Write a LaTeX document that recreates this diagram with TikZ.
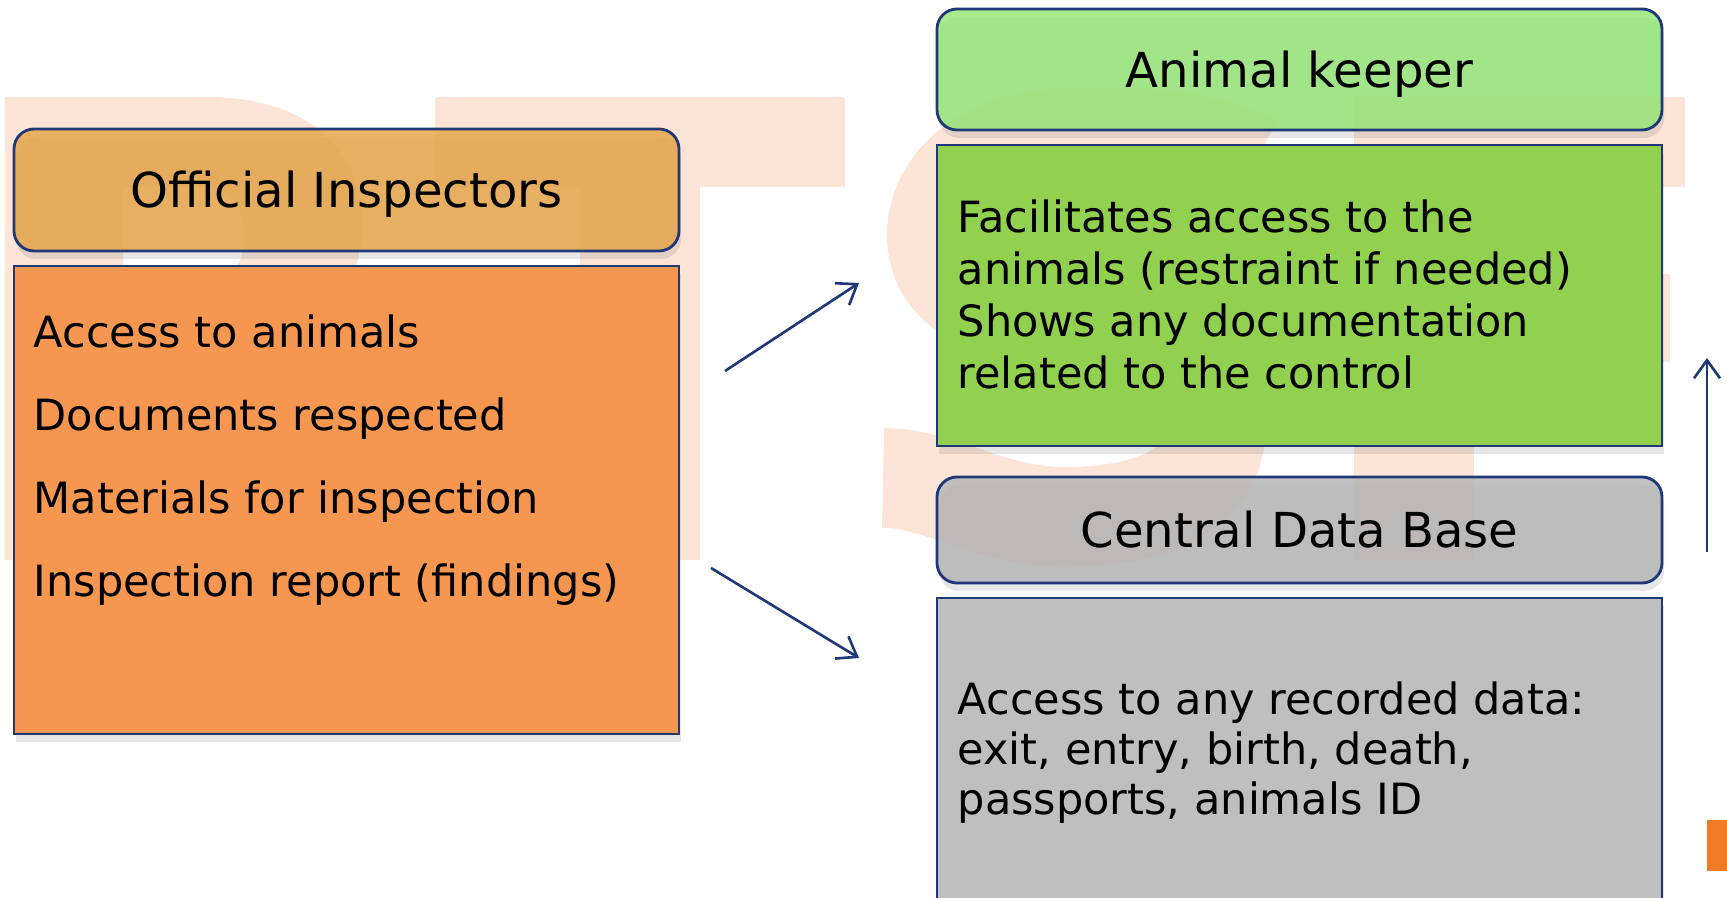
\documentclass[tikz,border=0pt]{standalone}
\usepackage{fontspec}
\setmainfont{DejaVu Sans}
\usetikzlibrary{arrows.meta,shadows}

\definecolor{navy}{RGB}{31,56,120}
\definecolor{peach}{RGB}{252,229,214}
\definecolor{inspHead}{RGB}{231,166,76}
\definecolor{inspBody}{RGB}{245,151,80}
\definecolor{keepHead}{RGB}{150,230,120}
\definecolor{keepBody}{RGB}{146,208,80}
\definecolor{dbHead}{RGB}{182,182,182}
\definecolor{dbBody}{RGB}{191,191,191}
\definecolor{logoOrange}{RGB}{240,125,38}

\begin{document}
\begin{tikzpicture}[x=0.1mm, y=-0.1mm, font=\fontsize{12.25}{14}\selectfont,
  headbox/.style={draw=navy, line width=0.8pt, rounded corners=2mm,
    fill opacity=0.85, text opacity=1, inner sep=0pt,
    text height=10pt, text depth=0pt,
    drop shadow={opacity=0.2, shadow xshift=0.2mm, shadow yshift=-0.8mm},
    font=\fontsize{13.7}{16}\selectfont},
  bodybox/.style={draw=navy, line width=0.8pt, inner sep=0pt,
    drop shadow={opacity=0.2, shadow xshift=0.2mm, shadow yshift=-0.8mm}},
  line/.style={anchor=base west, inner sep=0pt},
  linkarrow/.style={draw=navy, line width=0.75pt,
    -{Straight Barb[length=1.8mm, width=2.6mm]}}]

\useasboundingbox (0,0) rectangle (1727,898);
\clip (0,0) rectangle (1727,898);

\begin{scope}[fill=peach]
\fill[even odd rule] (5,97) -- (205,97) .. controls (310,97) and (362,150) .. (362,225)
  .. controls (362,275) and (340,305) .. (300,322)
  .. controls (385,340) and (432,390) .. (432,445)
  .. controls (432,520) and (370,560) .. (250,560) -- (5,560) -- cycle
  (123,187) -- (195,187) .. controls (228,187) and (244,205) .. (244,237)
  .. controls (244,268) and (228,285) .. (195,285) -- (123,285) -- cycle
  (123,375) -- (210,375) .. controls (260,375) and (290,395) .. (290,422)
  .. controls (290,452) and (260,470) .. (210,470) -- (123,470) -- cycle;
\fill (435,97) rectangle (845,187);
\fill (580,187) rectangle (700,560);
\draw[peach, line width=10mm] (1255,165) .. controls (1195,135) and (1130,138) .. (1074,138)
  .. controls (985,138) and (937,185) .. (937,235)
  .. controls (937,290) and (990,310) .. (1074,330)
  .. controls (1160,350) and (1215,375) .. (1215,430)
  .. controls (1215,490) and (1150,517) .. (1065,517)
  .. controls (990,517) and (940,478) .. (883,478);
\fill (1354,97) rectangle (1474,560);
\fill (1474,97) rectangle (1685,187);
\fill (1474,274) rectangle (1670,362);
\end{scope}

\fill[logoOrange] (1707,820) rectangle (1740,871);

\node[bodybox, fill=inspBody, minimum width=66.5mm, minimum height=46.8mm] (inspbody) at (346.5,500) {};
\node[headbox, fill=inspHead, minimum width=66.5mm, minimum height=12.2mm] (insp) at (346.5,190) {Official Inspectors};

\node[bodybox, fill=keepBody, minimum width=72.5mm, minimum height=30.1mm] (keepbody) at (1299.5,295.5) {};
\node[headbox, fill=keepHead, minimum width=72.5mm, minimum height=12.1mm] (keep) at (1299.5,69.5) {Animal keeper};

\node[bodybox, fill=dbBody, minimum width=72.5mm, minimum height=40.2mm] (dbbody) at (1299.5,799) {};
\node[headbox, fill=dbHead, minimum width=72.5mm, minimum height=10.6mm] (db) at (1299.5,530) {Central Data Base};

\foreach \txt [count=\i from 0] in {Access to animals, Documents respected,
  Materials for inspection, Inspection report (findings)}{
\node[line] (insptxt\i) at (33,{348+82.7*\i}) {\txt};
}
\foreach \txt [count=\i from 0] in {Facilitates access to the,
  animals (restraint if needed), Shows any documentation, related to the control}{
\node[line] (keeptxt\i) at (957,{233+51.7*\i}) {\txt};
}
\foreach \txt [count=\i from 0] in {{Access to any recorded data:},
  {exit, entry, birth, death,}, {passports, animals ID}}{
\node[line] (dbtxt\i) at (957,{715+50*\i}) {\txt};
}

\coordinate (insp-up) at (725,371);
\coordinate (keep-in) at (859,283);
\coordinate (insp-down) at (711,568);
\coordinate (db-in) at (859,658);
\coordinate (db-up) at (1707,552);
\coordinate (keep-up) at (1707,358);

\draw[linkarrow] (insp-up) -- (keep-in);
\draw[linkarrow] (insp-down) -- (db-in);
\draw[linkarrow] (db-up) -- (keep-up);
\end{tikzpicture}
\end{document}
